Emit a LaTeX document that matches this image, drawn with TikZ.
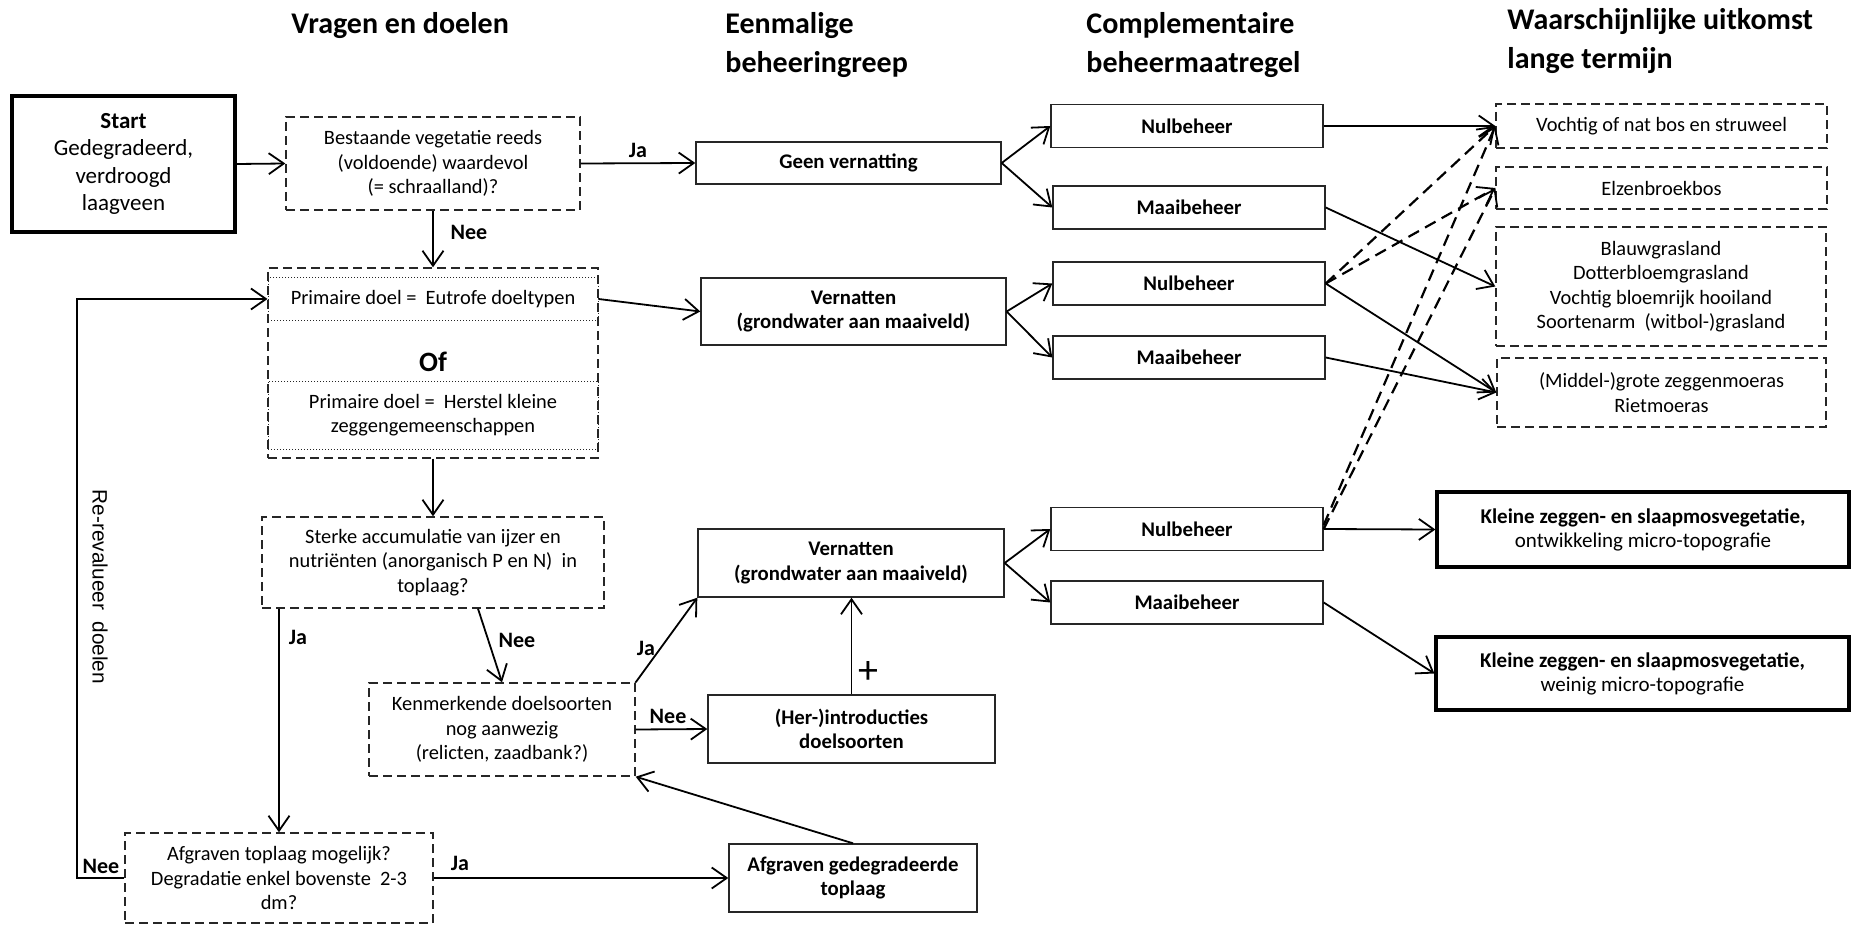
\documentclass[tikz,border=0pt]{standalone}
\usepackage{fontspec}
\setmainfont{Carlito}
\newfontfamily\arialf{Liberation Sans}
\usetikzlibrary{arrows.meta,calc}
\begin{document}
\begin{tikzpicture}[x=0.5pt,y=-0.5pt,
  every node/.style={font=\fontsize{10.2}{12.25}\selectfont, align=center, inner sep=0pt},
  sbox/.style={draw=black!85, line width=0.7pt},
  dbox/.style={draw=black!85, line width=0.7pt, dash pattern=on 4.5pt off 2.5pt},
  tbox/.style={draw=black, line width=1.6pt},
  dotbox/.style={draw=black!85, line width=0.5pt, densely dotted},
  bl/.style={font=\bfseries\fontsize{10.4}{12.25}\selectfont},
  lab/.style={font=\bfseries\fontsize{11}{13}\selectfont},
  head/.style={font=\bfseries\fontsize{15}{19.5}\selectfont, align=left, anchor=west},
  arr/.style={-{Straight Barb[length=7.5pt,width=10.5pt,line width=0.9pt]}, line width=0.9pt},
  darr/.style={-{Straight Barb[length=7.5pt,width=10.5pt,line width=0.9pt]}, line width=1.1pt, dash pattern=on 6pt off 3.5pt},
]
\useasboundingbox (0,0) rectangle (1852,925);

% headings
\node[head] (h1) at (291,26) {Vragen en doelen};
\node[head] (h2) at (725,45.5) {Eenmalige\\beheeringreep};
\node[head] (h3) at (1086,45.5) {Complementaire\\beheermaatregel};
\node[head] (h4) at (1507,41) {Waarschijnlijke uitkomst\\lange termijn};

% column 1
\node[tbox, minimum width=111.5pt, minimum height=68pt, font=\fontsize{11.5}{13.8}\selectfont] (start) at (123.5,164) {\textbf{Start}\\Gedegradeerd,\\verdroogd\\laagveen};
\node[dbox, minimum width=147pt, minimum height=46.5pt] (q1) at (433,163.5) {Bestaande vegetatie reeds\\(voldoende) waardevol\\(= schraalland)?};
\node[dbox, minimum width=165pt, minimum height=95pt] (goal) at (433,363) {};
\node[dotbox, minimum width=165pt, minimum height=21pt] (g1) at (433,299) {Primaire doel =~~Eutrofe doeltypen};
\node[font=\bfseries\fontsize{14}{16}\selectfont] (of) at (433,362) {Of};
\node[dotbox, minimum width=165pt, minimum height=34pt] (g2) at (433,415) {Primaire doel =~~Herstel kleine\\zeggengemeenschappen};
\node[dbox, minimum width=171pt, minimum height=45.5pt] (q2) at (433,562.5) {Sterke accumulatie van ijzer en\\nutriënten (anorganisch P en N)~~in\\toplaag?};
\node[dbox, minimum width=133pt, minimum height=46.5pt] (q3) at (502,729.5) {Kenmerkende doelsoorten\\nog aanwezig\\(relicten, zaadbank?)};
\node[dbox, minimum width=154pt, minimum height=45pt] (q4) at (279,878) {Afgraven toplaag mogelijk?\\Degradatie enkel bovenste~~2-3\\dm?};

% column 2
\node[sbox, bl, minimum width=152.5pt, minimum height=21pt] (geen) at (848.5,163) {Geen vernatting};
\node[sbox, bl, minimum width=152.5pt, minimum height=33.5pt] (vern1) at (853.5,311.5) {Vernatten\\(grondwater aan maaiveld)};
\node[sbox, bl, minimum width=153pt, minimum height=34pt] (vern2) at (851,563) {Vernatten\\(grondwater aan maaiveld)};
\node[sbox, bl, minimum width=143.5pt, minimum height=34pt] (her) at (851.5,729) {(Her-)introducties\\doelsoorten};
\node[sbox, bl, minimum width=124pt, minimum height=34pt] (afg) at (853,878) {Afgraven gedegradeerde\\toplaag};

% column 3
\node[sbox, bl, minimum width=136pt, minimum height=21.5pt] (nul1) at (1187,126) {Nulbeheer};
\node[sbox, bl, minimum width=136pt, minimum height=21.5pt] (mai1) at (1189,207.5) {Maaibeheer};
\node[sbox, bl, minimum width=136pt, minimum height=21.5pt] (nul2) at (1189,283.5) {Nulbeheer};
\node[sbox, bl, minimum width=136pt, minimum height=21.5pt] (mai2) at (1189,357.5) {Maaibeheer};
\node[sbox, bl, minimum width=136pt, minimum height=21.5pt] (nul3) at (1187,529) {Nulbeheer};
\node[sbox, bl, minimum width=136pt, minimum height=21.5pt] (mai3) at (1187,602.5) {Maaibeheer};

% column 4
\node[dbox, minimum width=165.5pt, minimum height=22pt] (o1) at (1661.5,126) {Vochtig of nat bos en struweel};
\node[dbox, minimum width=165.5pt, minimum height=21pt] (o2) at (1661.5,188) {Elzenbroekbos};
\node[dbox, minimum width=165pt, minimum height=59.5pt] (o3) at (1661,286.5) {Blauwgrasland\\Dotterbloemgrasland\\Vochtig bloemrijk hooiland\\Soortenarm~~(witbol-)grasland};
\node[dbox, minimum width=164.5pt, minimum height=34.5pt] (o4) at (1661.5,392.5) {(Middel-)grote zeggenmoeras\\Rietmoeras};
\node[tbox, minimum width=206pt, minimum height=37.5pt, font=\fontsize{10.5}{12}\selectfont] (k1) at (1643,529.5) {\textbf{Kleine zeggen- en slaapmosvegetatie,}\\ontwikkeling micro-topografie};
\node[tbox, minimum width=206.5pt, minimum height=36.5pt, font=\fontsize{10.5}{12}\selectfont] (k2) at (1642.5,673.5) {\textbf{Kleine zeggen- en slaapmosvegetatie,}\\weinig micro-topografie};

% connectors column 1
\draw[arr] (start.east) -- (q1.west);
\draw[arr] (q1.south) -- (goal.north);
\node[lab] (lnee1) at (469,232) {Nee};
\draw[arr] (q1.east) -- (geen.west);
\node[lab] (lja1) at (638,150) {Ja};
\draw[arr] (g1.east) -- (vern1.west);
\draw[arr] (goal.south) -- (q2.north);
\draw[arr] (q2.south west -| q4.north) -- (q4.north);
\node[lab] (lja2) at (298,637) {Ja};
\draw[arr] ($(q2.south)+(45,0)$) -- (q3.north);
\node[lab] (lnee2) at (517,640) {Nee};
\draw[arr] (q3.north east) -- (vern2.south west);
\node[lab] (lja3) at (646,648) {Ja};
\draw[arr] (q3.east) -- (her.west);
\node[lab] (lnee3) at (668,716) {Nee};
\draw[arr] (her.north) -- (her.north |- vern2.south);
\node (plus) at (868,672) {\fontsize{20}{20}\selectfont +};
\draw[arr] (q4.east) -- (afg.west);
\node[lab] (lja4) at (460,863) {Ja};
\draw[arr] (afg.north) -- (q3.south east);
\draw[arr] (q4.west) -- ++(-47,0) |- (g1.west);
\node[lab] (lnee4) at (101,866) {Nee};
\node[rotate=-90, font=\arialf\fontsize{10.4}{12}\selectfont] (reval) at (100,587) {Re-revalueer~~doelen};

% connectors column 2 -> 3
\draw[arr] (geen.east) -- (nul1.west);
\draw[arr] (geen.east) -- (mai1.west);
\draw[arr] (vern1.east) -- (nul2.west);
\draw[arr] (vern1.east) -- (mai2.west);
\draw[arr] (vern2.east) -- (nul3.west);
\draw[arr] (vern2.east) -- (mai3.west);

% connectors column 3 -> 4
\draw[arr] (nul1.east) -- (o1.west);
\draw[arr] (mai1.east) -- (o3.west);
\draw[arr] (nul2.east) -- (o4.west);
\draw[arr] (mai2.east) -- (o4.west);
\draw[darr] (nul2.east) -- (o1.west);
\draw[darr] (nul2.east) -- (o2.west);
\draw[arr] (nul3.east) -- (k1.west);
\draw[darr] ($(nul3.east)+(0,-4)$) -- (o1.west);
\draw[darr] (nul3.east) -- (o2.west);
\draw[arr] (mai3.east) -- (k2.west);
\end{tikzpicture}
\end{document}
